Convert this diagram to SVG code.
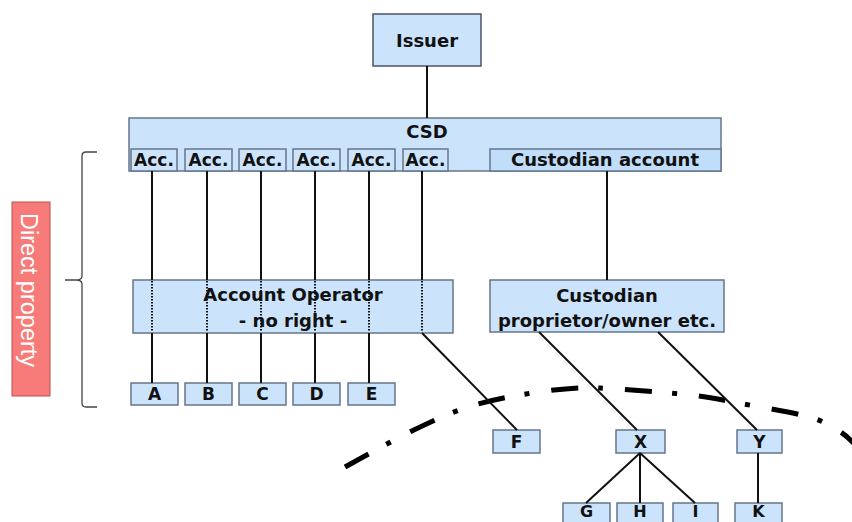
<svg xmlns="http://www.w3.org/2000/svg" width="852" height="522" viewBox="0 0 852 522">
<style>
.box{fill:#cbe4fc;stroke:#66768a;stroke-width:1.5}
.t{font-family:"DejaVu Sans","Liberation Sans",sans-serif;font-weight:bold;font-size:18px;fill:#111;text-anchor:middle}
.ts{font-size:17px}
.tb{font-size:16px}
.ln{stroke:#111;stroke-width:2;fill:none}
.dot{stroke:#111;stroke-width:2;stroke-dasharray:1.5 1.5;fill:none}
</style>
<rect width="852" height="522" fill="#fff"/>
<g id="boundary">
<path d="M345,467 C390,442 440,414 478,404 S570,386 600,388 S690,393 723,400 S805,413 823,422 S848,436 860,450" fill="none" stroke="#000" stroke-width="5" stroke-dasharray="27 20 5 22"/>
</g>
<g id="brace">
<path d="M97,152 L86,152 Q82,152 82,156 L82,276 Q82,280 76,280 L65,280 L76,280 Q82,280 82,284 L82,403 Q82,407 86,407 L97,407" fill="none" stroke="#444" stroke-width="1.3"/>
</g>
<g id="direct-property">
<rect x="12" y="202" width="38" height="194" fill="#f77b79" stroke="#b65450" stroke-width="1"/>
<text x="0" y="0" transform="translate(21,290) rotate(90)" font-family="'Liberation Sans',Arial,sans-serif" font-size="23.5" fill="#fff" text-anchor="middle">Direct property</text>
</g>
<g id="issuer"><rect class="box" x="373" y="14" width="108" height="52" style="stroke:#4a5563"/><text class="t" x="427" y="47">Issuer</text></g>
<g id="csd">
<rect class="box" x="129" y="118" width="592" height="53"/>
<text class="t" x="427" y="138">CSD</text>
</g>
<g id="acc1"><rect class="box" x="131" y="149" width="46" height="22"/><text class="t ts" x="154" y="166">Acc.</text></g>
<g id="acc2"><rect class="box" x="185" y="149" width="47" height="22"/><text class="t ts" x="208.5" y="166">Acc.</text></g>
<g id="acc3"><rect class="box" x="239" y="149" width="47" height="22"/><text class="t ts" x="262.5" y="166">Acc.</text></g>
<g id="acc4"><rect class="box" x="293" y="149" width="47" height="22"/><text class="t ts" x="316.5" y="166">Acc.</text></g>
<g id="acc5"><rect class="box" x="348" y="149" width="47" height="22"/><text class="t ts" x="371.5" y="166">Acc.</text></g>
<g id="acc6"><rect class="box" x="403" y="149" width="45" height="22"/><text class="t ts" x="425.5" y="166">Acc.</text></g>
<g id="custodian-account"><rect class="box" x="490" y="149" width="231" height="22" style="fill:#c0ddf9"/><text class="t" x="605" y="166">Custodian account</text></g>
<g id="account-operator">
<rect class="box" x="133" y="280" width="320" height="53"/>
<text class="t" x="293" y="301">Account Operator</text>
<text class="t" x="293" y="327">- no right -</text>
</g>
<g id="custodian">
<rect class="box" x="490" y="280" width="234" height="52"/>
<text class="t" x="607" y="302">Custodian</text>
<text class="t" x="607" y="327">proprietor/owner etc.</text>
</g>
<g id="A"><rect class="box" x="131" y="383" width="47" height="22"/><text class="t ts" x="154.5" y="400">A</text></g>
<g id="B"><rect class="box" x="185" y="383" width="47" height="22"/><text class="t ts" x="208.5" y="400">B</text></g>
<g id="C"><rect class="box" x="239" y="383" width="47" height="22"/><text class="t ts" x="262.5" y="400">C</text></g>
<g id="D"><rect class="box" x="293" y="383" width="47" height="22"/><text class="t ts" x="316.5" y="400">D</text></g>
<g id="E"><rect class="box" x="348" y="383" width="47" height="22"/><text class="t ts" x="371.5" y="400">E</text></g>
<g id="F"><rect class="box" x="493" y="430" width="47" height="23"/><text class="t ts" x="516.5" y="448">F</text></g>
<g id="X"><rect class="box" x="616" y="430" width="49" height="23"/><text class="t ts" x="640.5" y="448">X</text></g>
<g id="Y"><rect class="box" x="737" y="430" width="45" height="23"/><text class="t ts" x="759.5" y="448">Y</text></g>
<g id="G"><rect class="box" x="563" y="503" width="47" height="24"/><text class="t tb" x="586.5" y="517">G</text></g>
<g id="H"><rect class="box" x="617" y="503" width="46" height="24"/><text class="t tb" x="640" y="517">H</text></g>
<g id="I"><rect class="box" x="673" y="503" width="45" height="24"/><text class="t tb" x="695.5" y="517">I</text></g>
<g id="K"><rect class="box" x="735" y="503" width="47" height="24"/><text class="t tb" x="758.5" y="517">K</text></g>
<g id="connectors">
<line class="ln" x1="427" y1="66" x2="427" y2="118"/>
<line class="ln" x1="607" y1="171" x2="607" y2="280"/>
<line class="ln" x1="152" y1="171" x2="152" y2="280"/><line class="dot" x1="152" y1="281" x2="152" y2="332"/><line class="ln" x1="152" y1="333" x2="152" y2="383"/>
<line class="ln" x1="207" y1="171" x2="207" y2="280"/><line class="dot" x1="207" y1="281" x2="207" y2="332"/><line class="ln" x1="207" y1="333" x2="207" y2="383"/>
<line class="ln" x1="261" y1="171" x2="261" y2="280"/><line class="dot" x1="261" y1="281" x2="261" y2="332"/><line class="ln" x1="261" y1="333" x2="261" y2="383"/>
<line class="ln" x1="315" y1="171" x2="315" y2="280"/><line class="dot" x1="315" y1="281" x2="315" y2="332"/><line class="ln" x1="315" y1="333" x2="315" y2="383"/>
<line class="ln" x1="369" y1="171" x2="369" y2="280"/><line class="dot" x1="369" y1="281" x2="369" y2="332"/><line class="ln" x1="369" y1="333" x2="369" y2="383"/>
<line class="ln" x1="422" y1="171" x2="422" y2="280"/><line class="dot" x1="422" y1="281" x2="422" y2="332"/><line class="ln" x1="422" y1="333" x2="517" y2="430"/>
<line class="ln" x1="539" y1="332" x2="637" y2="430"/>
<line class="ln" x1="658" y1="332" x2="757" y2="430"/>
<line class="ln" x1="640" y1="453" x2="586" y2="503"/>
<line class="ln" x1="640" y1="453" x2="640" y2="503"/>
<line class="ln" x1="640" y1="453" x2="695" y2="503"/>
<line class="ln" x1="758" y1="453" x2="758" y2="503"/>
</g>
</svg>
